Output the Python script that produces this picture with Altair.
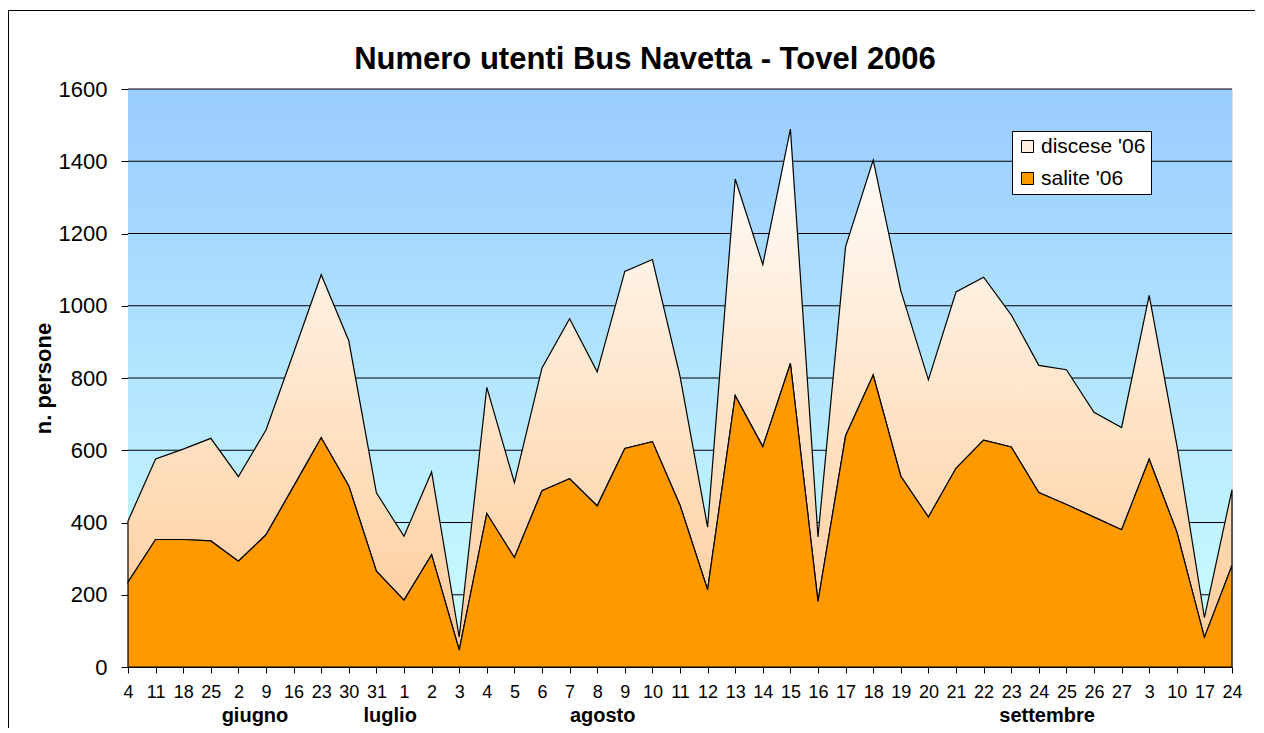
import altair as alt
import pandas as pd

# --- data ---
giorni = ["4", "11", "18", "25", "2", "9", "16", "23", "30", "31", "1", "2", "3", "4", "5",
          "6", "7", "8", "9", "10", "11", "12", "13", "14", "15", "16", "17", "18", "19", "20",
          "21", "22", "23", "24", "25", "26", "27", "3", "10", "17", "24"]
salite = [235, 353, 353, 349, 293, 366, 500, 635, 501, 265, 185, 311, 47, 425, 303,
          488, 521, 446, 605, 624, 448, 214, 751, 610, 840, 181, 640, 808, 528, 415,
          550, 628, 609, 483, 450, 415, 380, 575, 374, 82, 281]
discese = [169, 223, 250, 284, 234, 290, 370, 451, 402, 217, 177, 229, 36, 349, 207,
           340, 443, 371, 490, 504, 357, 173, 600, 504, 649, 179, 524, 595, 514, 380,
           488, 451, 366, 352, 373, 290, 283, 454, 241, 55, 210]
mesi = ["giugno", "luglio", "agosto", "settembre"]
mesi_pos = [4.6, 9.5, 17.2, 33.3]
serie = ["discese '06", "salite '06"]
y_ticks = [0, 200, 400, 600, 800, 1000, 1200, 1400, 1600]

n = len(giorni)
df = pd.DataFrame({"idx": list(range(n)), "salite": salite, "discese": discese})
df["totale"] = df["salite"] + df["discese"]
mesi_df = pd.DataFrame({"mese": mesi, "pos": mesi_pos})
grid_df = pd.DataFrame({"v": y_ticks[1:]})
leg_df = pd.DataFrame({"serie": serie, "idx": [0, 0], "v": [0, 0]})

W, H = 1104, 578
FONT = "Liberation Sans"

label_expr = "[" + ",".join("'%s'" % g for g in giorni) + "][datum.value]"

x_scale = alt.Scale(domain=[0, n - 1], nice=False, zero=False)
y_scale = alt.Scale(domain=[0, 1600], nice=False)

x_axis = alt.Axis(values=list(range(n)), tickCount=n + 5, labelExpr=label_expr, title=None,
                  grid=False, tickSize=6, labelPadding=10, labelFontSize=18, labelFont=FONT,
                  labelColor="black", domainColor="black", tickColor="black",
                  labelAngle=0, labelOverlap=False, labelBound=False, labelFlush=False,
                  labelSeparation=0)
y_axis = alt.Axis(values=y_ticks, tickCount=20, format="d", title="n. persone",
                  titleFont=FONT, titleFontSize=22, titleFontWeight="bold",
                  titleColor="black", titlePadding=3, labelFont=FONT, labelFontSize=22,
                  labelColor="black", tickSize=7, labelPadding=14, grid=False,
                  domainColor="black", tickColor="black")

sky = alt.Gradient(gradient="linear",
                   stops=[alt.GradientStop(color="#99CCFF", offset=0),
                          alt.GradientStop(color="#CCFFFF", offset=1)],
                   x1=0, x2=0, y1=0, y2=1)
peach = alt.Gradient(gradient="linear",
                     stops=[alt.GradientStop(color="#FFFFFF", offset=0),
                            alt.GradientStop(color="#FFCC99", offset=1)],
                     x1=0, x2=0, y1=0, y2=1)

base = alt.Chart(df)

bg = alt.Chart(leg_df.head(1)).mark_rect(color=sky).encode(
    x=alt.X("idx:Q", scale=x_scale, axis=x_axis),
    x2=alt.datum(n - 1),
    y=alt.Y("v:Q", scale=y_scale, axis=y_axis),
    y2=alt.datum(1600),
)

grid = alt.Chart(grid_df).mark_rule(color="black", strokeWidth=1).encode(
    y=alt.Y("v:Q", scale=y_scale, axis=y_axis),
    x=alt.datum(0),
    x2=alt.datum(n - 1),
)

band = base.mark_area(color=peach, stroke="black", strokeWidth=1.2).encode(
    x=alt.X("idx:Q", scale=x_scale, axis=x_axis),
    y=alt.Y("totale:Q", scale=y_scale, axis=y_axis),
    y2="salite:Q",
)

orange = base.mark_area(color="#FF9900", stroke="black", strokeWidth=1.2).encode(
    x=alt.X("idx:Q", scale=x_scale, axis=x_axis),
    y=alt.Y("salite:Q", scale=y_scale, axis=y_axis),
)

legend_layer = alt.Chart(leg_df).mark_point(opacity=0, shape="square", filled=True).encode(
    x=alt.X("idx:Q", scale=x_scale, axis=x_axis),
    y=alt.Y("v:Q", scale=y_scale, axis=y_axis),
    color=alt.Color("serie:N",
                    scale=alt.Scale(domain=serie, range=["#FFF0E3", "#FF9900"]),
                    legend=alt.Legend(title=None, orient="none", legendX=884, legendY=42,
                                      fillColor="white", strokeColor="black", padding=5,
                                      symbolType="square", symbolSize=144,
                                      symbolStrokeColor="black", symbolStrokeWidth=1,
                                      symbolOpacity=1, labelFont=FONT, labelFontSize=21,
                                      labelColor="black", rowPadding=10, labelOffset=3)),
)

months = alt.Chart(mesi_df).mark_text(font=FONT, fontSize=20, fontWeight="bold",
                                      baseline="alphabetic", align="center",
                                      color="black").encode(
    x=alt.X("pos:Q", scale=x_scale, axis=x_axis),
    y=alt.value(H + 55),
    text="mese:N",
)

# outer frame of the picture (left and top edges only are visible)
frame_left = alt.Chart(leg_df.head(1)).mark_rule(color="black", strokeWidth=1).encode(
    x=alt.value(-119.5), y=alt.value(-78.5), y2=alt.value(H + 61),
)
frame_top = alt.Chart(leg_df.head(1)).mark_rule(color="black", strokeWidth=1).encode(
    x=alt.value(-119.5), x2=alt.value(W + 23), y=alt.value(-78.5),
)

chart = alt.layer(bg, grid, band, orange, legend_layer, months,
                  frame_left, frame_top).properties(
    width=W, height=H,
    padding={"left": 120, "top": 81, "right": 24, "bottom": 62},
    autosize=alt.AutoSizeParams(type="none"),
    title=alt.Title("Numero utenti Bus Navetta - Tovel 2006", font=FONT, fontSize=31,
                    fontWeight="bold", color="black", dx=-35, offset=-66,
                    anchor="middle"),
).configure_view(stroke="#808080", strokeWidth=1).configure_axisX(
    labelOverlap=False
).configure(background="white")

chart.save("out.html", embed_options={"renderer": "svg", "actions": False})
